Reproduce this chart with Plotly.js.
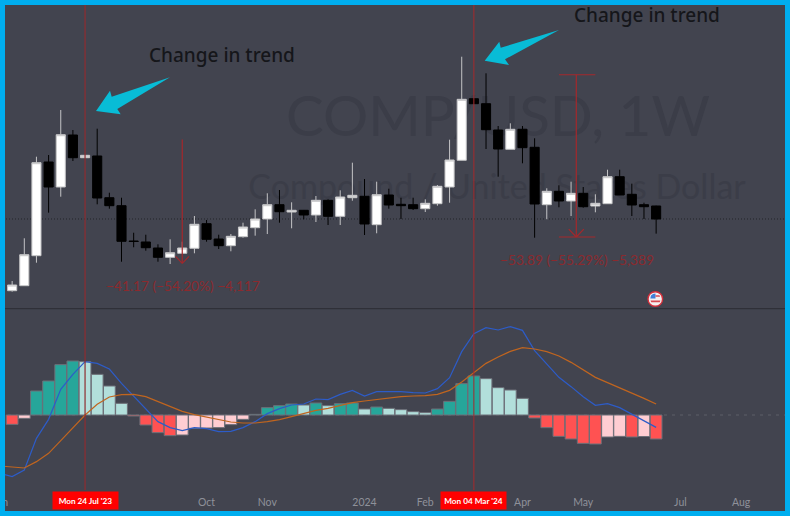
<!DOCTYPE html>
<html><head><meta charset="utf-8">
<script src="https://cdn.plot.ly/plotly-3.0.1.min.js"></script>
<style>html,body{margin:0;padding:0;background:#42444f;overflow:hidden}#c{width:790px;height:516px}</style>
</head><body><div id="c"></div>
<script>
const weeks=['2023-06-12','2023-06-19','2023-06-26','2023-07-03','2023-07-10','2023-07-17','2023-07-24','2023-07-31','2023-08-07','2023-08-14','2023-08-21','2023-08-28','2023-09-04','2023-09-11','2023-09-18','2023-09-25','2023-10-02','2023-10-09','2023-10-16','2023-10-23','2023-10-30','2023-11-06','2023-11-13','2023-11-20','2023-11-27','2023-12-04','2023-12-11','2023-12-18','2023-12-25','2024-01-01','2024-01-08','2024-01-15','2024-01-22','2024-01-29','2024-02-05','2024-02-12','2024-02-19','2024-02-26','2024-03-04','2024-03-11','2024-03-18','2024-03-25','2024-04-01','2024-04-08','2024-04-15','2024-04-22','2024-04-29','2024-05-06','2024-05-13','2024-05-20','2024-05-27','2024-06-03','2024-06-10','2024-06-17'];
const open=[25.74,27.40,37.37,68.49,60.19,77.46,69.92,70.49,56.63,53.98,42.25,41.92,39.92,36.83,38.16,39.82,48.00,42.91,40.69,43.68,46.67,49.56,54.31,51.88,52.45,50.89,55.77,50.45,56.63,57.10,47.67,57.53,54.44,54.31,52.98,54.64,60.19,69.06,89.52,87.86,79.12,72.71,79.36,73.38,54.31,58.76,55.54,58.09,53.88,54.64,63.61,57.76,54.31,53.88];
const high=[28.96,43.15,70.25,70.82,85.77,79.12,70.82,79.56,58.29,56.63,45.00,44.34,41.15,42.81,42.02,50.55,49.23,44.34,44.57,48.33,52.78,58.10,59.19,55.10,52.55,57.20,56.10,59.09,68.26,62.84,61.95,59.62,56.63,56.63,56.10,60.85,75.90,103.47,89.52,97.96,80.45,81.35,80.45,76.37,59.76,60.75,61.95,60.19,57.76,65.94,65.94,61.29,54.97,53.98];
const low=[25.41,27.40,35.04,51.65,56.97,68.83,69.82,54.44,52.98,35.37,40.16,39.03,35.37,34.61,37.93,38.16,42.02,39.59,38.83,43.35,44.01,44.57,48.33,46.47,49.46,48.56,47.56,47.56,55.64,44.24,44.81,52.98,49.56,52.55,51.88,53.98,54.97,69.06,87.86,72.81,63.61,72.71,68.06,43.35,49.46,53.45,50.55,53.31,51.78,54.54,57.53,50.55,49.56,44.69];
const close=[27.63,37.70,68.26,60.19,77.56,69.92,70.72,56.53,53.98,42.15,42.08,40.02,36.83,38.36,39.92,47.80,42.81,40.69,43.81,46.90,49.56,54.31,51.98,52.45,50.89,55.77,50.45,56.87,57.43,47.90,57.63,54.21,53.98,52.98,54.77,60.42,69.16,89.32,87.86,79.22,72.81,79.36,73.25,54.54,58.76,55.54,58.09,53.64,54.77,63.61,57.53,54.21,53.64,49.56];
const hist=[-1.87,-0.67,4.8,6.8,10.07,10.8,10.67,8.13,5.8,2.33,-0.2,-2.0,-3.53,-4.13,-4.0,-2.67,-2.6,-2.53,-1.93,-0.87,0.13,1.47,1.87,2.2,2.0,2.4,1.87,2.27,2.4,1.2,1.6,1.33,1.07,0.67,0.47,1.2,2.73,6.27,7.8,7.27,5.47,5.0,3.33,-0.6,-2.53,-4.27,-4.8,-5.67,-5.8,-4.4,-4.27,-4.4,-4.3,-4.8];
const lineDates=['2023-06-05'].concat(weeks);
const macd=[-11.67,-12.33,-11.0,-4.67,-0.87,5.13,8.13,10.67,10.33,9.2,6.33,3.8,1.33,-1.33,-2.53,-3.13,-2.53,-2.73,-3.33,-3.27,-2.53,-1.33,0.27,1.27,2.0,2.2,3.2,3.07,4.13,4.93,3.8,4.67,4.67,4.67,4.47,4.4,5.27,7.47,12.67,16.27,17.47,17.0,17.67,16.93,12.87,10.13,7.53,5.67,3.67,1.93,2.27,1.47,0.13,-1.2,-2.47];
const signal=[-10.2,-10.47,-10.6,-9.33,-7.67,-5.13,-2.53,0,2.13,3.6,4.07,4.13,3.67,2.67,1.67,0.73,0.07,-0.4,-0.93,-1.4,-1.6,-1.6,-1.33,-0.93,-0.33,0.27,0.93,1.33,1.87,2.47,2.8,3.13,3.47,3.67,3.8,3.87,4.13,4.93,6.6,8.47,10.33,11.6,12.73,13.47,13.2,12.67,11.8,10.53,9.0,7.53,6.47,5.47,4.4,3.33,2.2];
const tickDates=['2023-06-05','2023-10-02','2023-11-06','2024-01-01','2024-02-05','2024-04-01','2024-05-06','2024-07-01','2024-08-05'];
const tickLabels=['Jun','Oct','Nov','2024','Feb','Apr','May','Jul','Aug'];
const markedDates=['2023-07-24','2024-03-04'];
const markedLabels=["Mon 24 Jul '23","Mon 04 Mar '24"];
const lastClose=49.56;
const drop1={x:'2023-09-18',from:76.0,to:34.83,text:'\u221241.17 (\u221254.20%) \u22124,117'};
const drop2={x:'2024-05-02',left:'2024-04-22',right:'2024-05-13',from:97.47,to:43.58,text:'\u221253.89 (\u221255.29%) \u22125,389'};

const W=790,H=516,PB=490,SPLIT=(PB-309)/PB;
const fx=px=>px/W, fy=py=>(PB-py)/PB;
const poly=pts=>'M'+pts.map(p=>fx(p[0])+' '+fy(p[1])).join(' L')+' Z';
const RED='#a4282c',CYAN='#08bcd6',FRAME='#00aeef',WM='#3b3d48';
const FONT='Lato,sans-serif';

const histColors=hist.map((v,i)=>{const up=i>0&&v>hist[i-1];return v>=0?(up?'#26a69a':'#b2dfdb'):(up?'#ffcdd2':'#ff5252');});

const traces=[
 {type:'candlestick',x:weeks,open,high,low,close,xaxis:'x',yaxis:'y',hoverinfo:'skip',whiskerwidth:0,
  increasing:{line:{color:'#c4c4c6',width:1},fillcolor:'#ffffff'},
  decreasing:{line:{color:'#000000',width:1},fillcolor:'#000000'}},
 {type:'bar',x:weeks,y:hist,xaxis:'x',yaxis:'y2',hoverinfo:'skip',marker:{color:histColors,line:{color:'#6d6f78',width:1}}},
 {type:'scatter',mode:'lines',x:lineDates,y:macd,xaxis:'x',yaxis:'y2',hoverinfo:'skip',line:{color:'#2d5cc8',width:1.2}},
 {type:'scatter',mode:'lines',x:lineDates,y:signal,xaxis:'x',yaxis:'y2',hoverinfo:'skip',line:{color:'#c0651f',width:1.2}}
];

const lbl=(x0,y0,x1,y1,text,size,family)=>({type:'rect',layer:'below',xref:'paper',yref:'paper',x0:fx(x0),x1:fx(x1),y0:fy(y1),y1:fy(y0),line:{width:0},fillcolor:'rgba(0,0,0,0)',
  label:{text,textposition:'middle center',font:{family:family||FONT,size,color:WM}}});
const vline=(x,w,c)=>({type:'line',xref:'x',yref:'paper',x0:x,x1:x,y0:0,y1:1,line:{color:c,width:w}});
const seg=(x0,y0,x1,y1,w)=>({type:'line',xref:'x',yref:'y',x0,x1,y0,y1,line:{color:RED,width:w||1.2}});
const wk=(d,n)=>new Date(new Date(d+'T00:00:00Z').getTime()+n*604800000).toISOString().slice(0,19).replace('T',' ');

const shapes=[
 lbl(200,70,796,156,'COMP/USD, 1W',56.5),
 lbl(200,165,794,205,'Compound / United States Dollar',34),
 {type:'line',layer:'below',xref:'paper',yref:'y',x0:0,x1:1,y0:lastClose,y1:lastClose,line:{color:'#222329',width:1,dash:'1px,2px'}},
 {type:'line',layer:'below',xref:'paper',yref:'y2',x0:0,x1:1,y0:0,y1:0,line:{color:'#5c5e68',width:1,dash:'3px,5px'}},
 {type:'line',layer:'below',xref:'paper',yref:'paper',x0:0,x1:1,y0:fy(308.6),y1:fy(308.6),line:{color:'#2f3038',width:1.2}},
 vline(markedDates[0],1.2,'#8e2c30'),
 vline(markedDates[1],1,'#a62a2c'),
 seg(drop1.x,drop1.from,drop1.x,drop1.to),
 seg(wk(drop1.x,-0.55),drop1.to+2.3,drop1.x,drop1.to),
 seg(drop1.x,drop1.to,wk(drop1.x,0.55),drop1.to+2.3),
 seg(drop2.x,drop2.from,drop2.x,drop2.to),
 seg(drop2.left,drop2.from,drop2.right,drop2.from),
 seg(drop2.left,drop2.to,drop2.right,drop2.to),
 seg(wk(drop2.x,-0.62),drop2.to+2.6,drop2.x,drop2.to),
 seg(drop2.x,drop2.to,wk(drop2.x,0.62),drop2.to+2.6),
 {type:'path',xref:'paper',yref:'paper',fillcolor:CYAN,line:{width:0},path:poly([[170,77.3],[111.7,96.7],[110,90.7],[96,111],[120.7,114.3],[117.3,109]])},
 {type:'path',xref:'paper',yref:'paper',fillcolor:CYAN,line:{width:0},path:poly([[559,30],[500.7,47.7],[499.3,41.7],[484.7,60.7],[509,65],[505,59.3]])},
 // flag badge
 {type:'circle',xref:'paper',yref:'paper',x0:fx(648),x1:fx(662.6),y0:fy(306.3),y1:fy(291.7),fillcolor:'#f4f0f0',line:{color:'#d5303c',width:1.4}},
 {type:'path',xref:'paper',yref:'paper',fillcolor:'#3f7fd8',line:{width:0},path:poly([[650.3,298.5],[651,295.5],[653,294],[655.5,293.5],[655.5,298.5]])},
 {type:'path',xref:'paper',yref:'paper',fillcolor:'#d94a52',line:{width:0},path:poly([[655.5,295.2],[659.5,295.2],[660.2,296.8],[655.5,296.8]])},
 {type:'path',xref:'paper',yref:'paper',fillcolor:'#d94a52',line:{width:0},path:poly([[650.6,300.6],[660.4,300.6],[659.8,302.2],[651.2,302.2]])},
 // frame
 {type:'rect',xref:'paper',yref:'paper',x0:0,x1:fx(5),y0:fy(H),y1:fy(0),fillcolor:FRAME,line:{width:0}},
 {type:'rect',xref:'paper',yref:'paper',x0:fx(785),x1:1,y0:fy(H),y1:fy(0),fillcolor:FRAME,line:{width:0}},
 {type:'rect',xref:'paper',yref:'paper',x0:0,x1:1,y0:fy(5),y1:fy(0),fillcolor:FRAME,line:{width:0}},
 {type:'rect',xref:'paper',yref:'paper',x0:0,x1:1,y0:fy(H),y1:fy(511),fillcolor:FRAME,line:{width:0}}
];

const note=(text,cx,cy,size,color,family,weight)=>({xref:'paper',yref:'paper',x:fx(cx),y:fy(cy),xanchor:'center',yanchor:'middle',text,showarrow:false,font:{family:family||FONT,size,color,weight:weight||400}});
const dateBox=(i)=>({xref:'x',yref:'paper',x:markedDates[i],y:fy(500.5),xanchor:'center',yanchor:'middle',text:'<b>'+markedLabels[i]+'</b>',showarrow:false,bgcolor:'#ff0000',width:65,height:17,borderpad:0,font:{family:'Lato,sans-serif',size:8.2,color:'#ffffff'}});
const annotations=[
 note('Change in trend',221.5,55,19,'#15161a','"Noto Sans",sans-serif',500),
 note('Change in trend',646.5,15,19,'#15161a','"Noto Sans",sans-serif',500),
 note(drop1.text,182.5,285.7,13.7,'#8b2a2e'),
 note(drop2.text,577,259.3,13.7,'#8b2a2e'),
 dateBox(0),dateBox(1)
];

const layout={width:W,height:H,margin:{l:0,r:0,t:0,b:H-PB,pad:0},paper_bgcolor:'#42444f',plot_bgcolor:'#42444f',showlegend:false,bargap:0.03,boxgap:0.25,boxgroupgap:0,
 xaxis:{type:'date',range:['2023-06-05','2024-09-02 03:00'],anchor:'y2',tickmode:'array',tickvals:tickDates,ticktext:tickLabels,ticklabeloverflow:'allow',
   showgrid:false,zeroline:false,showline:false,ticks:'outside',ticklen:2,tickcolor:'rgba(0,0,0,0)',rangeslider:{visible:false},
   tickfont:{family:'Lato,sans-serif',size:10.5,color:'#8f919a'},fixedrange:true},
 yaxis:{domain:[SPLIT,1],range:[19.66,122.31],visible:false,fixedrange:true},
 yaxis2:{domain:[0,SPLIT],range:[-15,21.2],visible:false,fixedrange:true,zeroline:false},
 shapes,annotations,hovermode:false};
Plotly.newPlot('c',traces,layout,{displayModeBar:false,staticPlot:true});
</script></body></html>
